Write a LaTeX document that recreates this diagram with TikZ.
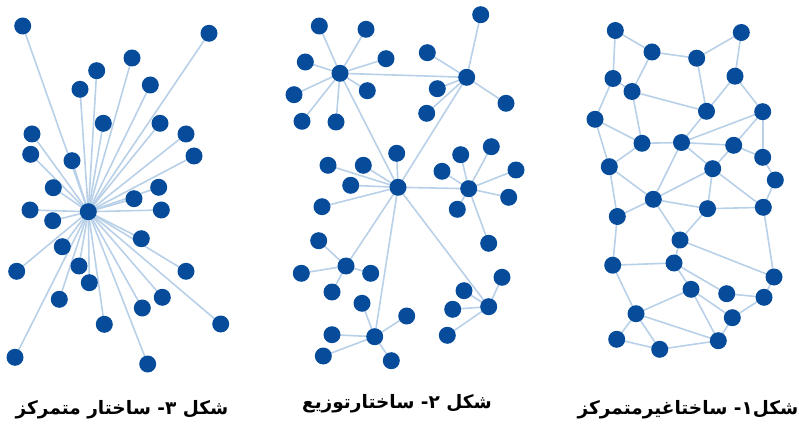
\documentclass[tikz,border=0pt]{standalone}
\usepackage{fontspec}
\newfontfamily\arabicfont[Script=Arabic]{DejaVu Sans}
\TeXXeTstate=1
\usetikzlibrary{positioning}
\pgfdeclarelayer{back}
\pgfsetlayers{back,main}
\definecolor{dotblue}{RGB}{6,76,155}
\definecolor{linkblue}{RGB}{184,208,232}
\tikzset{
  dot/.style={circle,fill=dotblue,draw=none,minimum size=17pt,inner sep=0pt},
  link/.style={draw=linkblue,line width=1.6pt},
  caption/.style={font=\arabicfont\bfseries\fontsize{18.5}{22}\selectfont,inner sep=0pt}
}

\begin{document}
\begin{tikzpicture}[x=1pt,y=-1pt]
\useasboundingbox (0,0) rectangle (799,427);

% star
\node[dot] (s0) at (88.3,211.7) {};
\node[dot] (s1) at (22.7,26) {};
\node[dot] (s2) at (209,33.3) {};
\node[dot] (s3) at (132,58) {};
\node[dot] (s4) at (96.7,70.7) {};
\node[dot] (s5) at (80,89.3) {};
\node[dot] (s6) at (150.3,85) {};
\node[dot] (s7) at (103.3,123.3) {};
\node[dot] (s8) at (160,123.3) {};
\node[dot] (s9) at (32,134) {};
\node[dot] (s10) at (186,134) {};
\node[dot] (s11) at (30.7,154.3) {};
\node[dot] (s12) at (72,160.7) {};
\node[dot] (s13) at (194,156) {};
\node[dot] (s14) at (53.3,187.7) {};
\node[dot] (s15) at (158.7,187.3) {};
\node[dot] (s16) at (134,198.7) {};
\node[dot] (s17) at (30,210) {};
\node[dot] (s18) at (161.3,210) {};
\node[dot] (s19) at (52.7,220.7) {};
\node[dot] (s20) at (141.3,238.7) {};
\node[dot] (s21) at (62.3,246.7) {};
\node[dot] (s22) at (16.7,271.3) {};
\node[dot] (s23) at (186,271.3) {};
\node[dot] (s24) at (79,266) {};
\node[dot] (s25) at (89.3,282.7) {};
\node[dot] (s26) at (59.3,299.3) {};
\node[dot] (s27) at (162.3,297.3) {};
\node[dot] (s28) at (142.3,308) {};
\node[dot] (s29) at (104.3,324.3) {};
\node[dot] (s30) at (220.7,324) {};
\node[dot] (s31) at (15,357.3) {};
\node[dot] (s32) at (147.7,364) {};

% distributed
\node[dot] (a) at (340,73.3) {};
\node[dot] (a1) at (319.3,26) {};
\node[dot] (a2) at (366,29.3) {};
\node[dot] (a3) at (305.3,62) {};
\node[dot] (a4) at (386,58.7) {};
\node[dot] (a5) at (294,94.7) {};
\node[dot] (a6) at (367.3,90.7) {};
\node[dot] (a7) at (302,121.3) {};
\node[dot] (a8) at (336,122) {};
\node[dot] (b) at (466.7,77.3) {};
\node[dot] (b1) at (427.3,52.7) {};
\node[dot] (b2) at (480.7,14.7) {};
\node[dot] (b3) at (437.3,88.7) {};
\node[dot] (b4) at (426.7,113.3) {};
\node[dot] (b5) at (506,103.3) {};
\node[dot] (c) at (398,187.3) {};
\node[dot] (c1) at (396.7,153.3) {};
\node[dot] (c2) at (328,165.3) {};
\node[dot] (c3) at (363.3,165.3) {};
\node[dot] (c4) at (350.7,185.3) {};
\node[dot] (c5) at (322,206.7) {};
\node[dot] (d) at (468.7,188.7) {};
\node[dot] (d1) at (460.7,154.7) {};
\node[dot] (d2) at (491.3,146.7) {};
\node[dot] (d3) at (442,171.3) {};
\node[dot] (d4) at (516,170) {};
\node[dot] (d5) at (508.7,197.3) {};
\node[dot] (d6) at (457.3,209.3) {};
\node[dot] (d7) at (488.7,243.3) {};
\node[dot] (e) at (346,266) {};
\node[dot] (e1) at (318.7,240.7) {};
\node[dot] (e2) at (301.3,273.3) {};
\node[dot] (e3) at (370.7,273.3) {};
\node[dot] (e4) at (332,292) {};
\node[dot] (f) at (374.7,336.7) {};
\node[dot] (f1) at (362,303.3) {};
\node[dot] (f2) at (406.7,316) {};
\node[dot] (f3) at (332,334.7) {};
\node[dot] (f4) at (323.3,356) {};
\node[dot] (f5) at (391.3,360.7) {};
\node[dot] (g) at (488.7,306.7) {};
\node[dot] (g1) at (502,277.3) {};
\node[dot] (g2) at (464,290.7) {};
\node[dot] (g3) at (452.7,309.3) {};
\node[dot] (g4) at (447.3,335.3) {};

% mesh
\node[dot] (m1) at (615.3,30.5) {};
\node[dot] (m2) at (652,52) {};
\node[dot] (m3) at (696.7,58.2) {};
\node[dot] (m4) at (741.3,32.5) {};
\node[dot] (m5) at (613,78.5) {};
\node[dot] (m6) at (632,91.5) {};
\node[dot] (m7) at (735,76.2) {};
\node[dot] (m8) at (706.5,111.3) {};
\node[dot] (m9) at (762.7,111.7) {};
\node[dot] (m10) at (595,119.3) {};
\node[dot] (m11) at (642,143.3) {};
\node[dot] (m12) at (681.5,142.5) {};
\node[dot] (m13) at (733.7,145.3) {};
\node[dot] (m14) at (762.7,157.3) {};
\node[dot] (m15) at (609.3,166.7) {};
\node[dot] (m16) at (712.7,168.7) {};
\node[dot] (m17) at (775.3,180) {};
\node[dot] (m18) at (653.3,199.3) {};
\node[dot] (m19) at (707.5,208.7) {};
\node[dot] (m20) at (763.3,207.3) {};
\node[dot] (m21) at (617.3,216.5) {};
\node[dot] (m22) at (680,240) {};
\node[dot] (m23) at (612.7,265.2) {};
\node[dot] (m24) at (674,263) {};
\node[dot] (m25) at (774,277) {};
\node[dot] (m26) at (691,289.3) {};
\node[dot] (m27) at (726.7,293.7) {};
\node[dot] (m28) at (764,297.3) {};
\node[dot] (m29) at (636,313.7) {};
\node[dot] (m30) at (732.3,317.7) {};
\node[dot] (m31) at (616.7,339.3) {};
\node[dot] (m32) at (659.7,349.3) {};
\node[dot] (m33) at (718.3,340.7) {};

\begin{pgfonlayer}{back}
\foreach \n in {1,...,32}
  \draw[link] (s0.center) -- (s\n.center);
\foreach \h/\k in {a/8,b/5,c/5,d/7,e/4,f/5,g/4}
  \foreach \n in {1,...,\k}
    \draw[link] (\h.center) -- (\h\n.center);
\foreach \h in {a,b,d,e,f,g}
  \draw[link] (c.center) -- (\h.center);
\draw[link] (a.center) -- (b.center);
\foreach \i/\j in {1/2,1/5,2/3,2/6,3/4,3/8,4/7,5/6,5/10,6/8,6/11,7/8,7/9,8/12,9/12,9/13,9/14,
  10/11,10/15,11/12,11/15,12/13,12/16,12/18,13/14,13/16,14/17,15/18,15/21,16/18,16/19,16/20,
  17/20,18/19,18/21,18/22,19/22,19/20,20/25,21/23,22/24,22/25,23/24,23/29,24/26,24/27,25/28,
  26/29,26/30,26/33,27/28,28/30,29/31,29/32,29/33,30/33,31/32,32/33}
  \draw[link] (m\i.center) -- (m\j.center);
\end{pgfonlayer}

\node[caption] (cap3) at (122,410) {\beginR شکل ۳\kern0pt- ساختار متمرکز\endR};
\node[caption] (cap2) at (397,404) {\beginR شکل ۲\kern0pt- ساختارتوزیع\endR};
\node[caption] (cap1) at (688,410) {\beginR شکل۱\kern0pt- ساختاغیرمتمرکز\endR};

\end{tikzpicture}
\end{document}
